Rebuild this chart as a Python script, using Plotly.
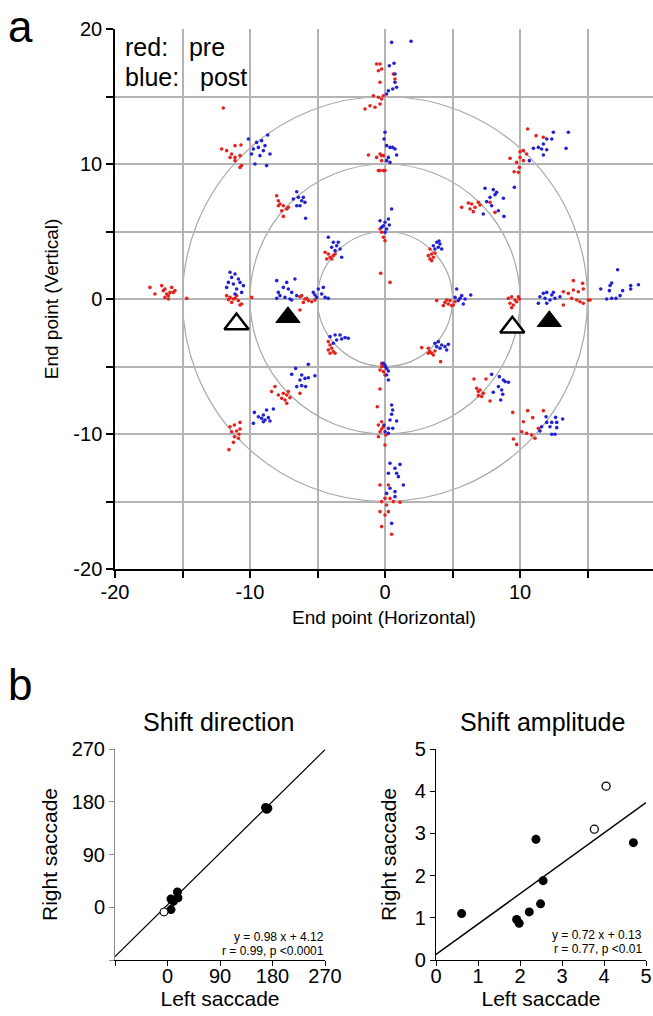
import plotly.graph_objects as go

# ---------------- Panel a data: saccade end points (deg) ----------------
# red = pre, blue = post ; grouped by target location
pre_left15 = [(-17.41,0.86),(-17.04,0.37),(-16.54,0.99),(-16.30,0.74),(-16.17,0.37),(-16.05,0.25),(-15.93,0.49),
              (-15.80,0.86),(-15.68,0.49),(-16.05,0.0),(-16.30,0.12),(-16.42,0.62),(-15.56,0.62),(-14.69,0.05)]
pre_left10 = [(-11.73,0.25),(-11.48,0.12),(-11.23,0.0),(-10.99,0.25),(-11.36,-0.25),(-10.86,-0.12),(-10.62,-0.37),
              (-9.88,0.12),(-11.11,0.05),(-10.74,-0.44),(-11.60,-0.05)]
pre_left5 = [(-6.17,0.25),(-5.93,0.0),(-5.68,-0.12),(-6.05,-0.25),(-6.30,0.17),(-5.80,0.05),(-5.43,-0.20),(-5.19,-0.07),(-6.30,-0.81)]
pre_ul15 = [(-12.10,11.11),(-11.73,10.99),(-11.36,10.74),(-11.48,10.49),(-11.11,10.49),(-10.74,10.62),(-11.11,10.25),
            (-10.62,9.88),(-10.74,9.75),(-11.11,11.36),(-10.67,11.41),(-11.98,14.15)]
pre_ul10 = [(-8.02,7.65),(-7.90,7.28),(-7.78,7.04),(-7.53,6.91),(-7.28,6.67),(-7.65,6.54),(-7.16,6.79),(-7.53,6.12),(-7.90,6.91)]
pre_ul5 = [(-4.44,3.46),(-4.20,3.33),(-4.07,3.09),(-3.95,2.96),(-3.83,3.21),(-4.32,2.96),(-3.70,3.33)]
pre_up15 = [(-0.37,17.41),(-0.25,17.04),(-0.37,16.05),(0.62,16.67),(0.74,16.30),(-0.12,15.06),(-0.62,17.41),(-0.49,16.91),
            (-0.86,15.06),(-0.49,14.94),(-0.25,14.81),(-1.48,14.07),(-1.11,14.32),(-0.74,14.20),(-0.37,14.44)]
pre_up10 = [(-0.37,10.74),(-0.12,10.62),(-0.25,10.25),(-0.37,9.51),(0.0,9.51),(-1.23,10.67),(-0.62,10.49),(-0.49,9.51),(-0.12,9.51),(-0.25,10.62)]
pre_up5 = [(-0.37,5.19),(-0.25,4.94),(-0.12,4.57),(0.0,4.32),(0.37,1.23),(-0.32,1.90)]
pre_ur5 = [(3.33,3.70),(3.46,3.33),(3.21,3.21),(3.58,3.09),(3.46,2.84),(3.33,2.96),(3.70,3.41)]
pre_ur10 = [(5.68,6.79),(6.17,7.11),(6.42,7.04),(6.30,6.67),(6.67,6.79),(6.54,6.47),(6.91,7.16),(7.04,6.96),(7.78,7.16),(8.15,6.42)]
pre_ur15 = [(10.57,12.59),(11.19,12.10),(11.73,11.98),(10.00,10.91),(10.25,10.99),(10.49,10.74),(9.26,10.42),(10.00,10.49),
            (10.25,10.25),(9.75,10.12),(9.95,9.75),(9.56,9.43),(9.88,9.38)]
pre_right5 = [(3.83,-0.12),(4.44,-0.25),(4.69,-0.37),(4.94,-0.49),(4.81,-0.12),(4.32,-0.49),(4.57,-0.07),(5.06,-0.44),(5.19,-0.20)]
pre_right10 = [(9.14,0.05),(9.38,0.17),(9.63,-0.07),(9.88,0.17),(9.26,-0.32),(9.51,-0.44),(9.75,-0.20),(9.38,-0.64),(9.95,0.0)]
pre_right15 = [(13.21,0.54),(13.58,0.42),(13.95,0.67),(14.32,0.54),(14.69,0.74),(13.83,0.05),(14.20,-0.07),(14.44,-0.20),
               (14.69,-0.32),(15.06,-0.07),(15.19,-0.07),(13.21,-0.44),(13.95,1.36),(14.64,1.16)]
pre_lr5 = [(2.72,-3.60),(3.21,-3.65),(3.33,-3.90),(3.46,-4.02),(3.58,-4.15),(3.21,-4.02),(3.70,-3.85),(4.12,-4.64)]
pre_lr10 = [(6.59,-5.93),(7.48,-5.93),(6.79,-6.62),(6.91,-6.86),(7.04,-6.74),(7.28,-6.99),(6.91,-7.16),(7.78,-7.56),(7.16,-7.23)]
pre_lr15 = [(9.46,-8.40),(10.57,-8.27),(11.73,-8.27),(10.25,-9.09),(10.94,-8.79),(10.12,-9.83),(10.49,-9.95),(10.86,-10.07),
            (11.11,-10.32),(9.51,-10.37),(9.75,-10.77),(11.36,-9.58)]
pre_down5 = [(-0.25,-5.01),(-0.37,-5.26),(-0.12,-5.38),(0.0,-5.63),(-0.25,-4.77),(-0.37,-6.67)]
pre_down10 = [(-0.25,-9.09),(-0.12,-9.46),(-0.37,-9.83),(0.07,-10.07),(0.0,-10.81),(-0.25,-9.63),(-0.49,-9.33),(-0.49,-10.20),(-0.57,-7.98)]
pre_down15 = [(0.25,-13.78),(0.0,-14.77),(-0.25,-15.01),(0.12,-15.26),(-0.37,-15.75),(0.0,-16.00),(0.25,-15.75),(0.62,-15.01),
              (0.37,-14.77),(-0.25,-16.86),(0.49,-17.43),(1.11,-15.06),(-0.37,-13.78)]
pre_ll5 = [(-4.20,-3.16),(-4.07,-3.41),(-3.95,-3.65),(-4.20,-3.78),(-3.83,-3.90),(-3.70,-4.02),(-4.07,-4.02)]
pre_ll10 = [(-8.40,-6.86),(-8.15,-6.49),(-7.90,-7.11),(-7.65,-7.36),(-7.41,-7.48),(-7.28,-7.11),(-7.16,-6.86),(-7.53,-6.99),
            (-7.28,-7.73),(-7.04,-7.31),(-6.30,-6.99)]
pre_ll15 = [(-11.48,-9.46),(-11.16,-9.33),(-10.74,-9.14),(-11.36,-9.83),(-10.99,-9.78),(-10.74,-9.63),(-11.16,-10.20),
            (-10.86,-10.32),(-11.23,-10.62),(-11.56,-11.16),(-10.81,-10.02)]

post_left10 = [(-11.48,1.98),(-11.11,1.85),(-11.36,1.60),(-10.86,1.48),(-11.60,1.23),(-11.23,1.11),(-10.74,1.23),(-10.49,0.99),
               (-11.73,0.86),(-10.99,0.74),(-10.62,0.49),(-11.11,0.37)]
post_left7 = [(-8.02,1.36),(-7.28,1.23),(-6.67,1.48),(-7.53,0.86),(-7.16,0.74),(-6.91,0.49),(-7.78,0.25),(-7.41,0.12),
              (-6.54,0.25),(-7.04,0.0),(-7.90,0.49),(-8.02,0.05),(-6.91,-0.07)]
post_left5 = [(-5.31,0.49),(-4.94,0.74),(-4.69,0.37),(-5.06,0.12),(-4.57,0.86),(-4.44,0.12),(-4.20,0.05),(-5.19,0.30)]
post_ul15 = [(-10.12,11.85),(-9.51,11.60),(-9.14,11.73),(-8.69,12.15),(-9.75,11.11),(-9.38,11.23),(-9.01,10.99),(-9.88,10.74),
             (-9.26,10.62),(-8.52,10.74),(-9.63,10.0),(-8.77,9.88),(-8.89,11.36)]
post_ul10 = [(-6.54,7.95),(-6.79,7.41),(-6.42,7.53),(-6.17,7.28),(-5.93,7.16),(-6.30,6.91),(-6.54,6.91),(-6.05,7.53),(-5.88,5.98)]
post_ul5 = [(-4.20,4.57),(-3.83,4.20),(-3.58,3.95),(-3.33,3.70),(-3.70,3.58),(-3.21,3.09),(-3.95,3.83),(-3.46,4.20)]
post_up15 = [(0.49,19.01),(1.93,19.09),(0.32,17.28),(0.67,17.46),(0.74,16.05),(0.86,15.68),(0.57,15.56),(0.25,15.43),(0.12,15.19),(0.74,16.67)]
post_up10 = [(0.0,12.35),(0.12,11.36),(0.37,11.23),(0.74,11.11),(0.86,10.67),(0.25,10.49),(0.37,10.12),(-0.07,11.85),(0.12,10.25),(0.57,11.23)]
post_up5 = [(0.49,6.67),(-0.37,5.80),(0.0,5.68),(0.25,5.93),(-0.12,5.43),(0.12,5.19),(-0.25,5.31),(0.0,4.94),(0.32,5.48)]
post_ur5 = [(3.83,4.20),(4.07,4.07),(3.95,3.83),(4.20,3.70),(3.58,3.95),(3.70,3.70),(4.00,4.30)]
post_ur10 = [(7.41,8.20),(8.02,8.10),(8.15,7.73),(7.78,7.53),(8.77,7.46),(7.53,7.21),(7.90,6.91),(8.40,6.54),(7.28,6.30),(8.81,6.12),(8.27,7.90)]
post_ur15 = [(12.47,12.35),(13.58,12.35),(11.98,11.85),(11.73,11.48),(11.36,11.23),(10.99,11.16),(11.60,11.11),(11.98,11.06),
             (13.41,11.16),(11.73,10.67),(10.69,10.25),(9.58,8.27),(12.35,11.85)]
post_right5 = [(5.31,0.74),(5.68,0.25),(5.93,0.0),(5.43,-0.12),(6.35,0.30),(5.80,-0.37),(5.19,0.12),(5.56,0.05)]
post_right10 = [(11.73,0.42),(11.98,0.49),(12.35,0.30),(11.48,0.17),(11.85,0.05),(12.22,-0.07),(11.36,-0.32),(11.98,-0.32),
                (12.59,0.05),(12.96,0.17),(12.47,0.49)]
post_right15 = [(17.23,2.17),(16.79,1.19),(16.67,1.0),(15.98,0.74),(16.62,0.62),(17.60,0.62),(18.20,1.0),(18.20,0.74),
                (18.77,1.06),(16.42,0.0),(16.79,0.05),(17.11,0.05),(17.41,0.25)]
post_lr5 = [(3.70,-3.28),(3.95,-3.16),(4.20,-3.41),(4.44,-3.53),(4.69,-3.36),(4.57,-3.78),(4.07,-3.65),(3.83,-3.53)]
post_lr10 = [(7.90,-5.58),(8.47,-5.75),(8.77,-6.00),(9.14,-6.17),(8.40,-6.49),(8.64,-6.74),(8.02,-6.91),(8.72,-7.06),(8.57,-7.48),(8.89,-6.12)]
post_lr15 = [(11.93,-8.72),(12.64,-8.77),(13.16,-8.89),(11.98,-9.14),(12.35,-9.14),(12.72,-9.14),(11.60,-9.46),(12.22,-9.46),
             (12.72,-9.53),(11.48,-9.78),(12.35,-10.02),(12.59,-10.02)]
post_down5 = [(-0.12,-4.77),(0.0,-4.89),(0.12,-5.14),(0.25,-5.33),(0.12,-5.63),(0.25,-6.0),(0.0,-5.0)]
post_down10 = [(0.49,-7.85),(0.57,-8.22),(0.49,-8.54),(0.86,-9.04),(0.37,-8.96),(0.25,-9.58),(0.57,-9.58),(-0.07,-9.33),(0.0,-9.83),(0.25,-9.95)]
post_down15 = [(0.37,-12.17),(0.74,-12.54),(1.11,-12.25),(0.86,-12.91),(0.25,-12.91),(0.99,-13.16),(1.36,-13.78),(0.37,-14.02),
               (0.74,-14.27),(0.12,-14.40),(0.49,-16.62),(0.74,-14.64)]
post_ll5 = [(-4.07,-2.79),(-3.70,-2.67),(-3.33,-2.67),(-2.96,-2.86),(-2.72,-2.91),(-3.58,-3.04),(-3.21,-2.96),(-3.83,-3.28)]
post_ll10 = [(-6.62,-5.14),(-5.68,-4.84),(-6.91,-5.58),(-6.17,-5.63),(-5.93,-5.88),(-5.68,-5.83),(-5.19,-5.68),(-6.54,-6.49),
             (-6.17,-6.42),(-5.88,-6.49),(-6.30,-6.00)]
post_ll15 = [(-9.68,-8.40),(-9.75,-9.21),(-9.01,-8.59),(-8.77,-8.22),(-8.27,-8.15),(-9.14,-8.84),(-8.89,-8.96),(-8.64,-8.79),
             (-8.52,-9.04),(-9.01,-9.09),(-9.38,-8.72)]

pre_groups = [pre_left15, pre_left10, pre_left5, pre_ul15, pre_ul10, pre_ul5, pre_up15, pre_up10, pre_up5,
              pre_ur5, pre_ur10, pre_ur15, pre_right5, pre_right10, pre_right15, pre_lr5, pre_lr10, pre_lr15,
              pre_down5, pre_down10, pre_down15, pre_ll5, pre_ll10, pre_ll15]
post_groups = [post_left10, post_left7, post_left5, post_ul15, post_ul10, post_ul5, post_up15, post_up10, post_up5,
               post_ur5, post_ur10, post_ur15, post_right5, post_right10, post_right15, post_lr5, post_lr10, post_lr15,
               post_down5, post_down10, post_down15, post_ll5, post_ll10, post_ll15]

ring_radii = [5, 10, 15]

# triangles (target markers)
open_tri_x = [-11.0, 9.43]
open_tri_y = [-1.85, -2.1]
filled_tri_x = [-7.19, 12.17]
filled_tri_y = [-1.35, -1.65]

# ---------------- Panel b data ----------------
dir_left_filled = [172, 170, 168, 6, 6, 10, 17, 18]
dir_right_filled = [169, 167, 170, -4, 14, 10, 26, 16]
dir_left_open = [-6]
dir_right_open = [-8]
dir_slope, dir_intercept = 0.98, 4.12

amp_left_filled = [0.61, 1.92, 1.98, 2.22, 2.38, 2.49, 2.55, 4.70]
amp_right_filled = [1.10, 0.96, 0.87, 1.14, 2.86, 1.33, 1.88, 2.78]
amp_left_open = [3.77, 4.05]
amp_right_open = [3.10, 4.12]
amp_slope, amp_intercept = 0.72, 0.13

W, H = 653, 1016
FONT = "Liberation Sans, Arial, Helvetica, sans-serif"
RED = "#e5221c"
BLUE = "#2222d4"

def px_x(p):
    return p / W

def px_y(p):
    return 1 - p / H

fig = go.Figure()

px_, py_ = [], []
for g in pre_groups:
    for x, y in g:
        px_.append(x); py_.append(y)
bx_, by_ = [], []
for g in post_groups:
    for x, y in g:
        bx_.append(x); by_.append(y)

# rings
for r in ring_radii:
    fig.add_shape(type="circle", xref="x", yref="y", x0=-r, x1=r, y0=-r, y1=r,
                  line=dict(color="#a8a8a8", width=1.2), layer="below")

fig.add_trace(go.Scatter(x=px_, y=py_, mode="markers", xaxis="x", yaxis="y",
                         marker=dict(color=RED, size=3.6), showlegend=False, hoverinfo="skip"))
fig.add_trace(go.Scatter(x=bx_, y=by_, mode="markers", xaxis="x", yaxis="y",
                         marker=dict(color=BLUE, size=3.6), showlegend=False, hoverinfo="skip"))
fig.add_trace(go.Scatter(x=open_tri_x, y=open_tri_y, mode="markers", xaxis="x", yaxis="y",
                         marker=dict(symbol="triangle-up", size=21, color="white",
                                     line=dict(color="black", width=2.5)), showlegend=False))
fig.add_trace(go.Scatter(x=filled_tri_x, y=filled_tri_y, mode="markers", xaxis="x", yaxis="y",
                         marker=dict(symbol="triangle-up", size=21, color="black",
                                     line=dict(color="black", width=1)), showlegend=False))

# panel b left
dline_x = [-90, 270]
dline_y = [dir_slope * v + dir_intercept for v in dline_x]
fig.add_trace(go.Scatter(x=dline_x, y=dline_y, mode="lines", xaxis="x2", yaxis="y2",
                         line=dict(color="black", width=1.2), showlegend=False))
fig.add_trace(go.Scatter(x=dir_left_filled, y=dir_right_filled, mode="markers", xaxis="x2", yaxis="y2",
                         marker=dict(color="black", size=9), showlegend=False))
fig.add_trace(go.Scatter(x=dir_left_open, y=dir_right_open, mode="markers", xaxis="x2", yaxis="y2",
                         marker=dict(color="white", size=8, line=dict(color="black", width=1)), showlegend=False))

# panel b right
aline_x = [0, 5]
aline_y = [amp_slope * v + amp_intercept for v in aline_x]
fig.add_trace(go.Scatter(x=aline_x, y=aline_y, mode="lines", xaxis="x3", yaxis="y3",
                         line=dict(color="black", width=1.5), showlegend=False))
fig.add_trace(go.Scatter(x=amp_left_filled, y=amp_right_filled, mode="markers", xaxis="x3", yaxis="y3",
                         marker=dict(color="black", size=9), showlegend=False))
fig.add_trace(go.Scatter(x=amp_left_open, y=amp_right_open, mode="markers", xaxis="x3", yaxis="y3",
                         marker=dict(color="white", size=8, line=dict(color="black", width=1.3)), showlegend=False))

main_ticks = [-20, -15, -10, -5, 0, 5, 10, 15, 20]
main_text = ["-20", "", "-10", "", "0", "", "10", "", "20"]

axis_font = dict(family=FONT, size=20, color="black")
title_font = dict(family=FONT, size=19, color="black")
bfont = dict(family=FONT, size=20, color="black")
btitle = dict(family=FONT, size=21, color="black")

fig.update_layout(
    width=W, height=H, margin=dict(l=0, r=0, t=0, b=0, autoexpand=False),
    paper_bgcolor="white", plot_bgcolor="white",
    font=dict(family=FONT, color="black"),
    xaxis=dict(domain=[px_x(115), 1.0], range=[-20, 19.85], tickvals=main_ticks, ticktext=main_text,
               showgrid=True, gridcolor="#b3b3b3", gridwidth=1.5, zeroline=False, automargin=False,
               showline=True, linecolor="black", linewidth=1.5, ticks="outside", ticklen=7,
               tickcolor="black", tickwidth=1.5, tickfont=axis_font, ticklabelstandoff=-3,
               title=dict(text="End point (Horizontal)", font=title_font, standoff=9),
               anchor="y"),
    yaxis=dict(domain=[px_y(569), px_y(29)], range=[-20, 20], tickvals=main_ticks, ticktext=main_text,
               showgrid=True, gridcolor="#b3b3b3", gridwidth=1.5, zeroline=False, automargin=False,
               showline=True, linecolor="black", linewidth=1.5, ticks="outside", ticklen=7,
               tickcolor="black", tickwidth=1.5, tickfont=axis_font,
               title=dict(text="End point (Vertical)", font=title_font, standoff=10),
               anchor="x"),
    xaxis2=dict(domain=[px_x(115), px_x(325)], range=[-90, 270], tickvals=[-90, 0, 90, 180, 270],
                ticktext=["", "0", "90", "180", "270"], showgrid=False, zeroline=False, automargin=False,
                showline=True, linecolor="black", linewidth=1.2, ticks="outside", ticklen=5,
                tickcolor="black", tickfont=bfont, ticklabelstandoff=-7,
                title=dict(text="Left saccade", font=btitle, standoff=2),
                anchor="y2"),
    yaxis2=dict(domain=[px_y(960), px_y(749)], range=[-90, 270], tickvals=[-90, 0, 90, 180, 270],
                ticktext=["", "0", "90", "180", "270"], showgrid=False, zeroline=False, automargin=False,
                showline=True, linecolor="#8c8c8c", linewidth=1, ticks="outside", ticklen=5,
                tickcolor="#8c8c8c", tickfont=bfont,
                title=dict(text="Right saccade", font=btitle, standoff=8),
                anchor="x2"),
    xaxis3=dict(domain=[px_x(436), px_x(646)], range=[0, 5], tickvals=[0, 1, 2, 3, 4, 5],
                showgrid=False, zeroline=False, automargin=False,
                showline=True, linecolor="black", linewidth=1.2, ticks="outside", ticklen=5,
                tickcolor="black", tickfont=bfont, ticklabelstandoff=-7,
                title=dict(text="Left saccade", font=btitle, standoff=2),
                anchor="y3"),
    yaxis3=dict(domain=[px_y(960), px_y(749)], range=[0, 5], tickvals=[0, 1, 2, 3, 4, 5],
                showgrid=False, zeroline=False, automargin=False,
                showline=True, linecolor="black", linewidth=1.2, ticks="outside", ticklen=5,
                tickcolor="black", tickfont=bfont,
                title=dict(text="Right saccade", font=btitle, standoff=12),
                anchor="x3"),
)

nb = "\u00a0"
annotations = [
    dict(text="a", x=px_x(6), y=px_y(27), xref="paper", yref="paper", xanchor="left", yanchor="middle",
         showarrow=False, font=dict(family=FONT, size=44)),
    dict(text="b", x=px_x(6), y=px_y(684), xref="paper", yref="paper", xanchor="left", yanchor="middle",
         showarrow=False, font=dict(family=FONT, size=44)),
    dict(text="red:" + nb * 3 + "pre", x=px_x(123), y=px_y(47), xref="paper", yref="paper",
         xanchor="left", yanchor="middle", showarrow=False, font=dict(family=FONT, size=25)),
    dict(text="blue:" + nb * 3 + "post", x=px_x(123), y=px_y(77), xref="paper", yref="paper",
         xanchor="left", yanchor="middle", showarrow=False, font=dict(family=FONT, size=25)),
    dict(text="Shift direction", x=px_x(218), y=px_y(722), xref="paper", yref="paper",
         xanchor="center", yanchor="middle", showarrow=False, font=dict(family=FONT, size=25)),
    dict(text="Shift amplitude", x=px_x(542), y=px_y(722), xref="paper", yref="paper",
         xanchor="center", yanchor="middle", showarrow=False, font=dict(family=FONT, size=25)),
    dict(text="y = 0.98 x + 4.12", x=px_x(326), y=px_y(937), xref="paper", yref="paper",
         xanchor="right", yanchor="middle", showarrow=False, font=dict(family=FONT, size=12)),
    dict(text="r = 0.99, p <0.0001", x=px_x(326), y=px_y(951), xref="paper", yref="paper",
         xanchor="right", yanchor="middle", showarrow=False, font=dict(family=FONT, size=12)),
    dict(text="y = 0.72 x + 0.13", x=px_x(644), y=px_y(935), xref="paper", yref="paper",
         xanchor="right", yanchor="middle", showarrow=False, font=dict(family=FONT, size=12)),
    dict(text="r = 0.77, p <0.01", x=px_x(644), y=px_y(949), xref="paper", yref="paper",
         xanchor="right", yanchor="middle", showarrow=False, font=dict(family=FONT, size=12)),
]
fig.update_layout(annotations=annotations)

fig.write_html("out.html")
